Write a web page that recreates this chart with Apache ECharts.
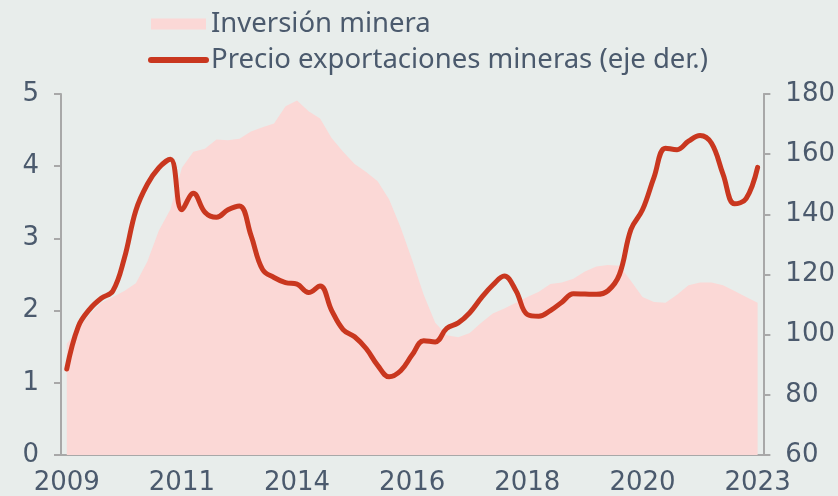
<!DOCTYPE html>
<html>
<head>
<meta charset="utf-8">
<script src="https://cdn.jsdelivr.net/npm/echarts@6/dist/echarts.min.js"></script>
<style>
  html, body { margin: 0; padding: 0; background: #e8edeb; }
  #chart { width: 838px; height: 496px; }
</style>
</head>
<body>
<div id="chart"></div>
<script>
// Tick labels shown under the x axis (one every 10 periods)
const tickLabels = ['2009', '2011', '2014', '2016', '2018', '2020', '2023'];

// Inversión minera (left axis)
const inversion = [
  1.54, 1.74, 1.95, 2.11, 2.19, 2.27, 2.38, 2.68, 3.11, 3.40,
  3.98, 4.20, 4.24, 4.37, 4.36, 4.38, 4.48, 4.54, 4.59, 4.83,
  4.91, 4.76, 4.66, 4.39, 4.20, 4.03, 3.92, 3.79, 3.54, 3.15,
  2.70, 2.22, 1.83, 1.66, 1.63, 1.69, 1.83, 1.96, 2.03, 2.11,
  2.19, 2.26, 2.37, 2.39, 2.44, 2.54, 2.61, 2.63, 2.62, 2.41,
  2.19, 2.12, 2.11, 2.22, 2.35, 2.39, 2.39, 2.35, 2.27, 2.19,
  2.11
];

// Precio exportaciones mineras (right axis)
const precio = [
  88.6, 102.7, 108.5, 112.1, 114.5, 125.4, 141.3, 150.0, 155.5, 158.3,
  141.5, 147.0, 140.7, 139.0, 141.5, 142.8, 133.0, 121.7, 119.0, 117.3,
  116.8, 114.0, 116.2, 108.1, 101.7, 99.3, 95.4, 89.8, 86.0, 88.0,
  93.3, 98.0, 97.6, 102.1, 103.9, 107.3, 112.2, 116.5, 119.5, 114.7,
  106.7, 106.1, 108.0, 110.8, 113.6, 113.5, 113.4, 114.6, 120.0, 135.0,
  141.5, 152.3, 162.0, 161.5, 164.3, 166.2, 163.6, 153.3, 143.5, 145.2,
  155.6
];

const periods = inversion.map(function (v, i) { return String(i); });

const textColor = '#4b5a6d';
const axisColor = '#a8a8a8';
const areaColor = '#fbd8d6';
const lineColor = '#c9371f';
const axisFont = { fontFamily: 'DejaVu Sans', fontSize: 26, color: textColor };

var chart = echarts.init(document.getElementById('chart'));

chart.setOption({
  animation: false,
  backgroundColor: '#e8edeb',
  legend: {
    orient: 'vertical',
    left: 148,
    top: 10,
    padding: 0,
    itemWidth: 55,
    itemHeight: 11,
    itemGap: 8,
    textStyle: { fontFamily: 'Noto Sans', fontSize: 27.5, color: textColor, lineHeight: 28 },
    data: [
      { name: 'Inversión minera', icon: 'rect' },
      {
        name: 'Precio exportaciones mineras (eje der.)',
        lineStyle: { width: 6, cap: 'round', color: lineColor },
        itemStyle: { opacity: 0 }
      }
    ]
  },
  grid: { left: 61, right: 74, top: 94, bottom: 40 },
  xAxis: {
    type: 'category',
    data: periods,
    boundaryGap: true,
    axisLine: { lineStyle: { color: axisColor, width: 2 } },
    axisTick: { interval: 9, length: 6, lineStyle: { color: axisColor, width: 2 } },
    axisLabel: Object.assign({
      interval: 9,
      margin: 15,
      formatter: function (v, i) { return i % 10 === 0 ? tickLabels[i / 10] : ''; }
    }, axisFont),
    splitLine: { show: false }
  },
  yAxis: [
    {
      type: 'value',
      min: 0, max: 5, interval: 1,
      axisLine: { show: true, lineStyle: { color: axisColor, width: 2 } },
      axisTick: { show: true, length: 7, lineStyle: { color: axisColor, width: 2 } },
      axisLabel: Object.assign({ margin: 22 }, axisFont),
      splitLine: { show: false }
    },
    {
      type: 'value',
      position: 'right',
      min: 60, max: 180, interval: 20,
      axisLine: { show: true, lineStyle: { color: axisColor, width: 2 } },
      axisTick: { show: true, length: 7, lineStyle: { color: axisColor, width: 2 } },
      axisLabel: Object.assign({ margin: 22 }, axisFont),
      splitLine: { show: false }
    }
  ],
  series: [
    {
      name: 'Inversión minera',
      type: 'line',
      yAxisIndex: 0,
      data: inversion,
      symbol: 'none',
      itemStyle: { color: areaColor },
      lineStyle: { width: 0 },
      areaStyle: { color: areaColor, opacity: 1 },
      z: 1
    },
    {
      name: 'Precio exportaciones mineras (eje der.)',
      type: 'line',
      yAxisIndex: 1,
      data: precio,
      symbol: 'none',
      smooth: 0.4,
      itemStyle: { color: lineColor },
      lineStyle: { color: lineColor, width: 5, cap: 'round', join: 'round' },
      z: 3
    }
  ]
});
</script>
</body>
</html>
